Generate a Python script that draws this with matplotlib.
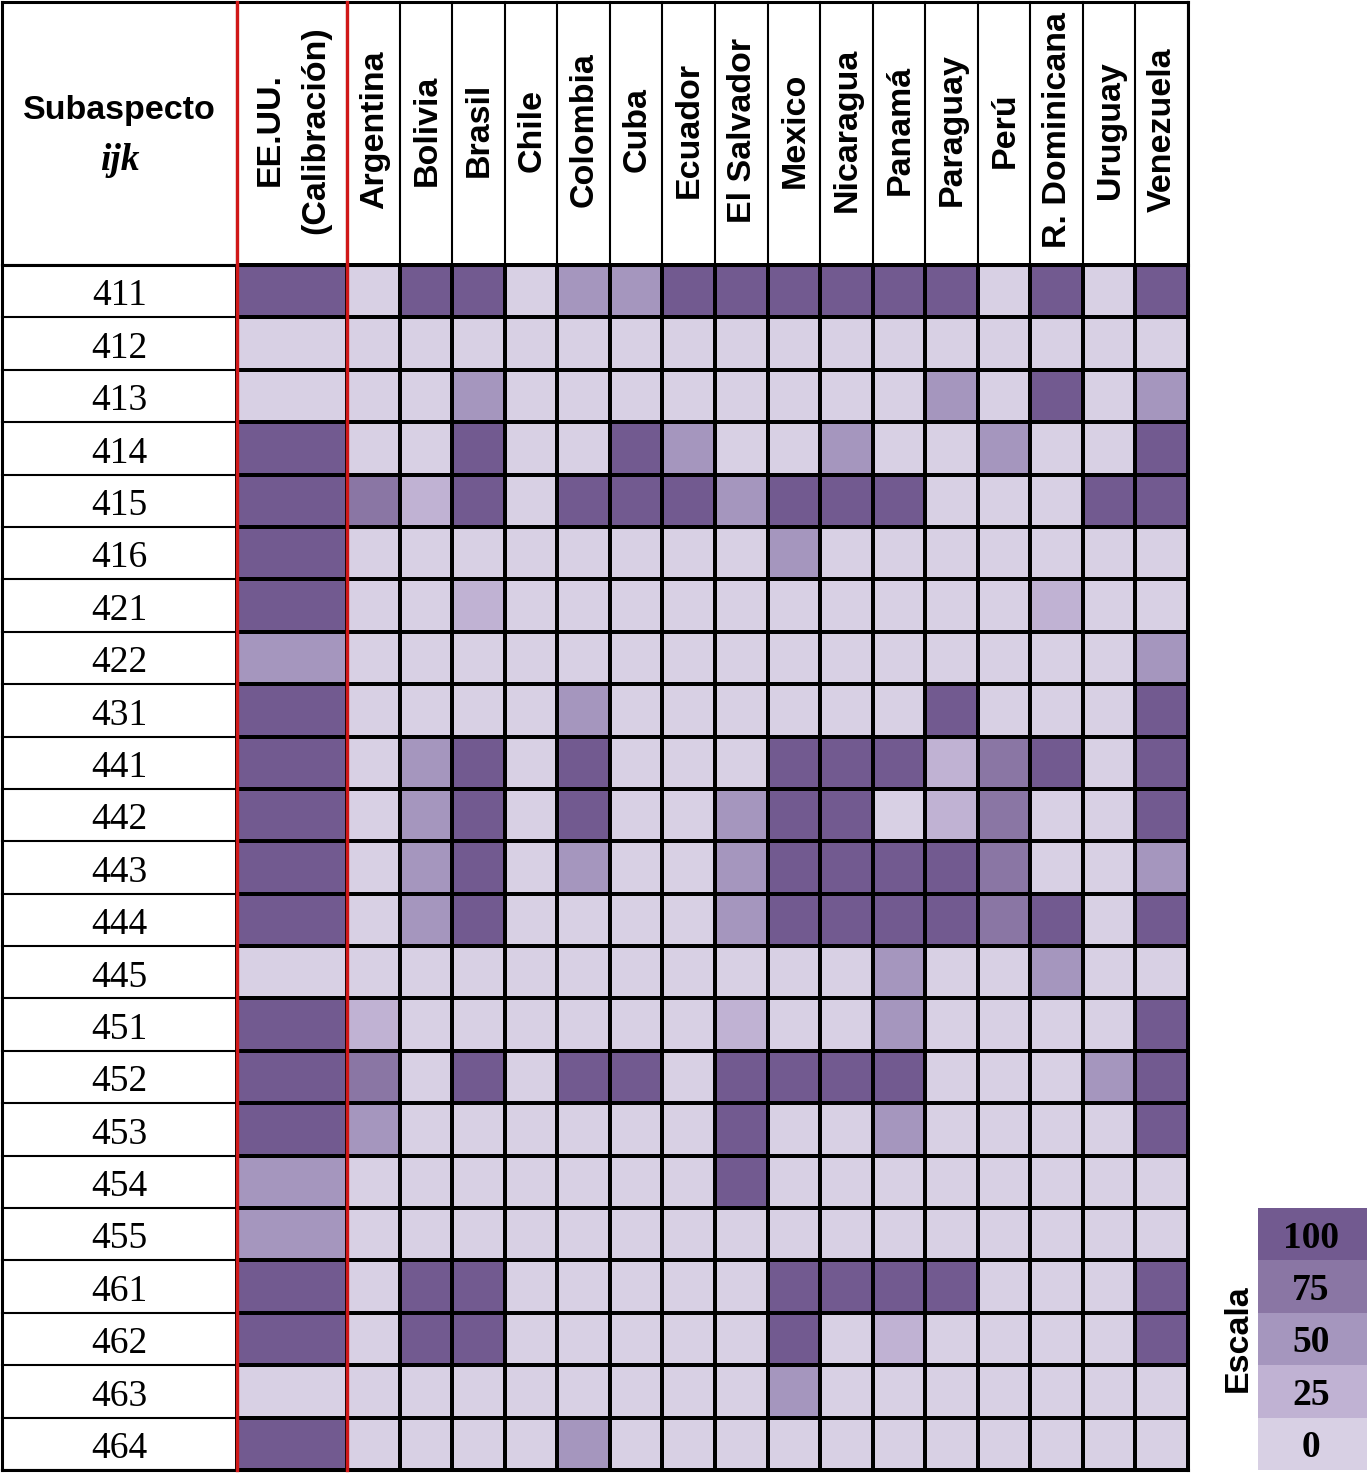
import numpy as np
import matplotlib.pyplot as plt
from matplotlib.colors import ListedColormap, BoundaryNorm

# subaspectos (filas)
subaspectos = ["411", "412", "413", "414", "415", "416", "421", "422", "431",
               "441", "442", "443", "444", "445", "451", "452", "453", "454",
               "455", "461", "462", "463", "464"]

paises = ["EE.UU.\n(Calibración)", "Argentina", "Bolivia", "Brasil", "Chile",
          "Colombia", "Cuba", "Ecuador", "El Salvador", "Mexico", "Nicaragua",
          "Panamá", "Paraguay", "Perú", "R. Dominicana", "Uruguay", "Venezuela"]

# valores por pais (0, 25, 50, 75, 100)
eeuu       = [100, 0, 0, 100, 100, 100, 100, 50, 100, 100, 100, 100, 100, 0, 100, 100, 100, 50, 50, 100, 100, 0, 100]
argentina  = [0, 0, 0, 0, 75, 0, 0, 0, 0, 0, 0, 0, 0, 0, 25, 75, 50, 0, 0, 0, 0, 0, 0]
bolivia    = [100, 0, 0, 0, 25, 0, 0, 0, 0, 50, 50, 50, 50, 0, 0, 0, 0, 0, 0, 100, 100, 0, 0]
brasil     = [100, 0, 50, 100, 100, 0, 25, 0, 0, 100, 100, 100, 100, 0, 0, 100, 0, 0, 0, 100, 100, 0, 0]
chile      = [0] * 23
colombia   = [50, 0, 0, 0, 100, 0, 0, 0, 50, 100, 100, 50, 0, 0, 0, 100, 0, 0, 0, 0, 0, 0, 50]
cuba       = [50, 0, 0, 100, 100, 0, 0, 0, 0, 0, 0, 0, 0, 0, 0, 100, 0, 0, 0, 0, 0, 0, 0]
ecuador    = [100, 0, 0, 50, 100, 0, 0, 0, 0, 0, 0, 0, 0, 0, 0, 0, 0, 0, 0, 0, 0, 0, 0]
elsalvador = [100, 0, 0, 0, 50, 0, 0, 0, 0, 0, 50, 50, 50, 0, 25, 100, 100, 100, 0, 0, 0, 0, 0]
mexico     = [100, 0, 0, 0, 100, 50, 0, 0, 0, 100, 100, 100, 100, 0, 0, 100, 0, 0, 0, 100, 100, 50, 0]
nicaragua  = [100, 0, 0, 50, 100, 0, 0, 0, 0, 100, 100, 100, 100, 0, 0, 100, 0, 0, 0, 100, 0, 0, 0]
panama     = [100, 0, 0, 0, 100, 0, 0, 0, 0, 100, 0, 100, 100, 50, 50, 100, 50, 0, 0, 100, 25, 0, 0]
paraguay   = [100, 0, 50, 0, 0, 0, 0, 0, 100, 25, 25, 100, 100, 0, 0, 0, 0, 0, 0, 100, 0, 0, 0]
peru       = [0, 0, 0, 50, 0, 0, 0, 0, 0, 75, 75, 75, 75, 0, 0, 0, 0, 0, 0, 0, 0, 0, 0]
rdominic   = [100, 0, 100, 0, 0, 0, 25, 0, 0, 100, 0, 0, 100, 50, 0, 0, 0, 0, 0, 0, 0, 0, 0]
uruguay    = [0, 0, 0, 0, 100, 0, 0, 0, 0, 0, 0, 0, 0, 0, 0, 50, 0, 0, 0, 0, 0, 0, 0]
venezuela  = [100, 0, 50, 100, 100, 0, 0, 50, 100, 100, 100, 50, 100, 0, 100, 100, 100, 0, 0, 100, 100, 0, 0]

escala = [100, 75, 50, 25, 0]

colores = ["#d8d0e4", "#c0b2d3", "#a596be", "#8a76a4", "#725a90"]
cmap = ListedColormap(colores)
norm = BoundaryNorm([-12.5, 12.5, 37.5, 62.5, 87.5, 112.5], cmap.N)

datos = np.array([eeuu, argentina, bolivia, brasil, chile, colombia, cuba, ecuador,
                  elsalvador, mexico, nicaragua, panama, paraguay, peru, rdominic,
                  uruguay, venezuela]).T

# geometria de la tabla (pixeles)
W, H = 1367, 1473
x_lab, x_us, x_paises, x_fin = 2, 237, 347, 1188
y_top, y_head, y_fin = 2, 265, 1470

fig = plt.figure(figsize=(W / 100, H / 100), dpi=100)
ax = fig.add_axes([0, 0, 1, 1])
ax.set_xlim(0, W)
ax.set_ylim(H, 0)
ax.axis("off")

xe = np.concatenate([[x_us], np.linspace(x_paises, x_fin, len(paises))])
ye = np.linspace(y_head, y_fin, len(subaspectos) + 1)
ax.pcolormesh(xe, ye, datos, cmap=cmap, norm=norm, edgecolors="black", linewidth=1.5)

# lineas del encabezado
for x in xe:
    ax.plot([x, x], [y_top, y_head], color="black", lw=1.5)
for y in ye:
    ax.plot([x_lab, x_us], [y, y], color="black", lw=1.5)
ax.plot([x_lab, x_fin], [y_top, y_top], color="black", lw=2.2)
ax.plot([x_lab, x_fin], [y_fin, y_fin], color="black", lw=2.2)
ax.plot([x_lab, x_lab], [y_top, y_fin], color="black", lw=2.2)
ax.plot([x_fin, x_fin], [y_top, y_fin], color="black", lw=2.2)
ax.plot([x_lab, x_fin], [y_head, y_head], color="black", lw=2.2)
for x in [x_us, x_paises]:
    ax.plot([x, x], [y_top, y_fin], color="#d01818", lw=2.4)

# textos
ax.text((x_lab + x_us) / 2, 110, "Subaspecto", ha="center", va="center",
        fontsize=24.5, fontweight="bold", family="Liberation Sans")
ax.text((x_lab + x_us) / 2, 160, "ijk", ha="center", va="center",
        fontsize=27, fontweight="bold", fontstyle="italic", family="Liberation Serif")

yc = (ye[:-1] + ye[1:]) / 2
for y, s in zip(yc, subaspectos):
    ax.text((x_lab + x_us) / 2, y + 5, s, ha="center", va="center",
            fontsize=27, family="Liberation Serif")

xc = (xe[:-1] + xe[1:]) / 2
for x, p in zip(xc, paises):
    ax.text(x + 1, 130, p, ha="center", va="center", rotation=90, multialignment="center",
            fontsize=24.5, fontweight="bold", family="Liberation Sans", linespacing=1.6)

# escala
lx = [1258, 1367]
ly = np.linspace(1208, 1470, len(escala) + 1)
ax.pcolormesh(lx, ly, np.array(escala).reshape(-1, 1), cmap=cmap, norm=norm)
for y, v in zip((ly[:-1] + ly[1:]) / 2, escala):
    ax.text(1311, y + 4, str(v), ha="center", va="center",
            fontsize=27, fontweight="bold", family="Liberation Serif")
ax.text(1238, 1338, "Escala", ha="center", va="center", rotation=90,
        fontsize=24.5, fontweight="bold", family="Liberation Sans")

fig.savefig("out.png", dpi=100, facecolor="white")
